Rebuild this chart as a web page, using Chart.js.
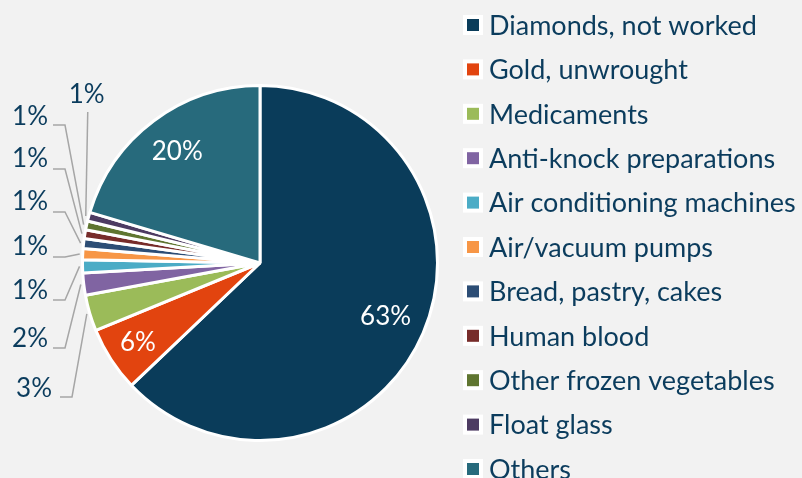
<!DOCTYPE html>
<html>
<head>
<meta charset="utf-8">
<script src="https://cdn.jsdelivr.net/npm/chart.js@4.4.0/dist/chart.umd.min.js"></script>
<style>
  html, body { margin: 0; padding: 0; background: #f2f2f2; }
  #wrap { width: 802px; height: 478px; }
</style>
</head>
<body>
<div id="wrap"><canvas id="exportsPie" width="802" height="478"></canvas></div>
<script>
// Dados do gráfico
const categories = [
    'Diamonds, not worked',
    'Gold, unwrought',
    'Medicaments',
    'Anti-knock preparations',
    'Air conditioning machines',
    'Air/vacuum pumps',
    'Bread, pastry, cakes',
    'Human blood',
    'Other frozen vegetables',
    'Float glass',
    'Others'
];
const shares = [62.9, 5.9, 3.3, 2.0, 1.2, 1.0, 0.9, 0.8, 0.8, 0.8, 20.4];
const sliceColors = [
    '#0a3c5a', '#e2440f', '#9bbb59', '#8064a2', '#4bacc6', '#f79646',
    '#2c4d75', '#772c2a', '#5f7530', '#4d3b62', '#276a7c'
];

const textColor = '#0b3c5d';
const leaderColor = '#a6a6a6';
const labelFont = '26px Lato';
const legendFont = '27px Lato';

// Rótulos dentro das fatias grandes (índice -> fração do raio)
const insideLabels = { 0: 0.77, 1: 0.82, 10: 0.78 };
// Rótulos fora, com linhas de chamada
const outsideLabels = {
    2: { tx: 52, ty: 389, lineY: 397, x0: 60, elbow: 72 },
    3: { tx: 48, ty: 339, lineY: 348, x0: 53, elbow: 65 },
    4: { tx: 48, ty: 291, lineY: 300, x0: 53, elbow: 65 },
    5: { tx: 48, ty: 247, lineY: 257, x0: 53, elbow: 65 },
    6: { tx: 48, ty: 202, lineY: 212, x0: 53, elbow: 65 },
    7: { tx: 48, ty: 159, lineY: 169, x0: 53, elbow: 65 },
    8: { tx: 48, ty: 117, lineY: 125, x0: 53, elbow: 65 }
};
const topLabelIndex = 9;

function pct(v) {
    const total = shares.reduce((s, x) => s + x, 0);
    return Math.round(v / total * 100) + '%';
}

const labelsPlugin = {
    id: 'sliceLabels',
    afterDatasetsDraw(chart) {
        const ctx = chart.ctx;
        const meta = chart.getDatasetMeta(0);
        ctx.save();
        ctx.font = labelFont;
        ctx.textBaseline = 'middle';

        meta.data.forEach((arc, i) => {
            const p = arc.getProps(['x', 'y', 'startAngle', 'endAngle', 'outerRadius'], true);
            const mid = (p.startAngle + p.endAngle) / 2;
            const text = pct(shares[i]);

            if (insideLabels[i] !== undefined) {
                const r = p.outerRadius * insideLabels[i];
                ctx.fillStyle = '#ffffff';
                ctx.textAlign = 'center';
                ctx.fillText(text, p.x + Math.cos(mid) * r, p.y + Math.sin(mid) * r);
                return;
            }

            const ex = p.x + Math.cos(mid) * (p.outerRadius + 3);
            const ey = p.y + Math.sin(mid) * (p.outerRadius + 3);
            ctx.strokeStyle = leaderColor;
            ctx.lineWidth = 1.5;

            const o = outsideLabels[i];
            if (o) {
                ctx.beginPath();
                ctx.moveTo(o.x0, o.lineY);
                ctx.lineTo(o.elbow, o.lineY);
                ctx.lineTo(ex, ey);
                ctx.stroke();
                ctx.fillStyle = textColor;
                ctx.textAlign = 'right';
                ctx.fillText(text, o.tx, o.ty);
            } else if (i === topLabelIndex) {
                const lx = ex + 2;
                ctx.beginPath();
                ctx.moveTo(lx, 112);
                ctx.lineTo(ex, ey);
                ctx.stroke();
                ctx.fillStyle = textColor;
                ctx.textAlign = 'center';
                ctx.fillText(text, lx - 1, 95);
            }
        });
        ctx.restore();
    }
};

// Legenda desenhada à mão para controlar o espaçamento
const legendPlugin = {
    id: 'sideLegend',
    afterDraw(chart) {
        const ctx = chart.ctx;
        const x0 = 463, y0 = 25, step = 44.4;
        ctx.save();
        ctx.font = legendFont;
        ctx.textBaseline = 'middle';
        ctx.textAlign = 'left';
        chart.data.labels.forEach((label, i) => {
            const y = y0 + i * step;
            ctx.fillStyle = '#ffffff';
            ctx.fillRect(x0, y - 10, 20, 20);
            ctx.fillStyle = sliceColors[i];
            ctx.fillRect(x0 + 4, y - 6, 12, 12);
            ctx.fillStyle = textColor;
            ctx.fillText(label, x0 + 26, y + 1);
        });
        ctx.restore();
    }
};

new Chart(document.getElementById('exportsPie'), {
    type: 'pie',
    data: {
        labels: categories,
        datasets: [{
            data: shares,
            backgroundColor: sliceColors,
            borderColor: '#ffffff',
            borderWidth: 3
        }]
    },
    options: {
        responsive: false,
        animation: false,
        layout: { padding: { left: 81, right: 363, top: 84, bottom: 36 } },
        plugins: {
            legend: { display: false },
            tooltip: { enabled: false }
        }
    },
    plugins: [labelsPlugin, legendPlugin]
});
</script>
</body>
</html>
